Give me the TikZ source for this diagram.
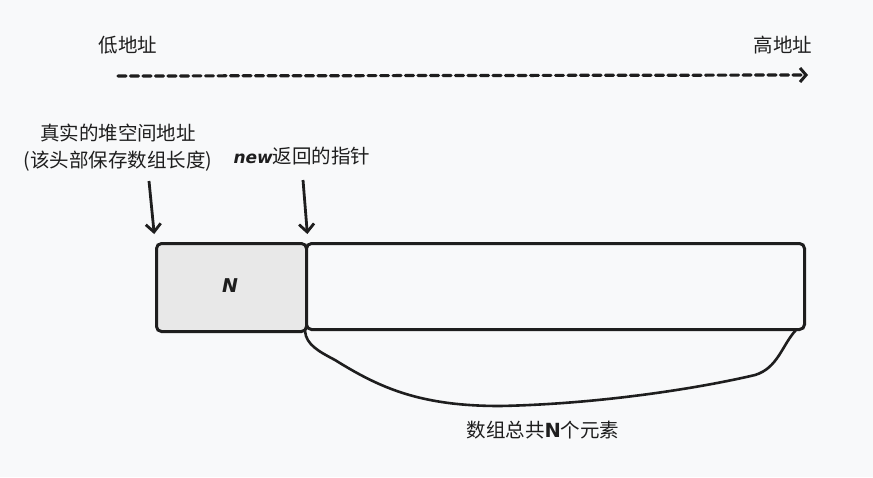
\documentclass[tikz,border=0pt]{standalone}
\usepackage{fontspec}
\setmainfont{Noto Sans CJK SC}
\newfontfamily\latinb{DejaVu Sans}
\usetikzlibrary{arrows.meta}
\definecolor{bgc}{RGB}{248,249,250}
\definecolor{ink}{RGB}{30,30,30}
\definecolor{cellfill}{RGB}{232,232,232}
\begin{document}
\begin{tikzpicture}[x=1pt,y=-1pt,
  lbl/.style={text=ink,font=\fontsize{19.5}{24}\selectfont,inner sep=0pt},
  cell/.style={draw=ink,line width=3pt,rounded corners=5pt},
  ptr/.style={draw=ink,line width=2.8pt,shorten >=8pt,-{Straight Barb[length=8pt,width=15pt,line width=2.8pt]}}
]
\fill[bgc] (0,0) rectangle (873,477);
\useasboundingbox (0,0) rectangle (873,477);

\node[lbl] (low) at (128,45) {低地址};
\node[lbl] (high) at (783,45) {高地址};
\coordinate (dstart) at (118,76);
\coordinate (dend) at (808,75);
\draw[ink,line width=3.2pt,dash pattern=on 8pt off 4.5pt,line cap=round,
  -{Straight Barb[length=6pt,width=14pt,line width=3pt]}] (dstart) -- (dend);

\node[lbl,align=center] (real) at (118,148) {真实的堆空间地址\\[3pt](该头部保存数组长度)};
\node[lbl] (newp) at (302,156) {{\latinb\bfseries\itshape\fontsize{17}{20}\selectfont new}返回的指针};

\node[cell,fill=cellfill,minimum width=150pt,minimum height=88pt,anchor=north west] (hdr) at (155,242) {};
\node[cell,fill=bgc,minimum width=498pt,minimum height=86pt,anchor=north west] (arr) at (305,242) {};
\node[text=ink,font=\latinb\bfseries\itshape\fontsize{19}{21}\selectfont] (nlab) at (230,286) {N};

\coordinate (a1s) at (149,181);
\coordinate (a2s) at (303,180);
\draw[ptr] (a1s) -- (hdr.north west);
\draw[ptr] (a2s) -- (hdr.north east);

\draw[ink,line width=2.6pt,line cap=round]
  (arr.south west) .. controls (306,345) and (320,352) .. (335,360)
  .. controls (380,388) and (420,406) .. (500,406)
  .. controls (600,404) and (700,388) .. (755,375)
  .. controls (778,368) and (782,345) .. (796,330);

\node[lbl] (cnt) at (543,430) {数组总共{\latinb\bfseries N}个元素};
\end{tikzpicture}
\end{document}
